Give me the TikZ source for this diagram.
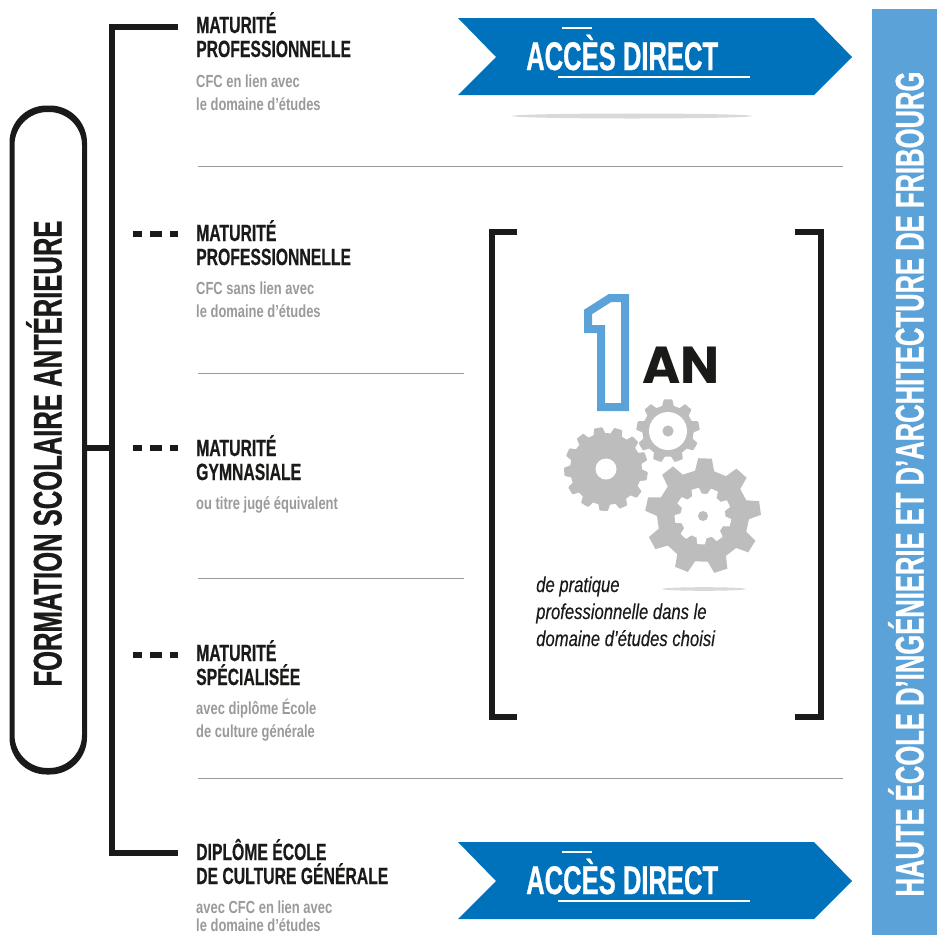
\documentclass[tikz,border=0pt]{standalone}
\usepackage{fontspec}
\setmainfont{Liberation Sans}
\newfontfamily\cond[FakeStretch=0.67,FakeBold=0.5]{Liberation Sans}
\newfontfamily\condb[FakeStretch=0.64,FakeBold=0.6]{Liberation Sans}
\newfontfamily\condi[FakeStretch=0.775,FakeBold=0.3]{Liberation Sans}
\newfontfamily\condn[FakeStretch=0.74]{Liberation Sans}
\newfontfamily\heavy{Poppins}
\definecolor{sky}{HTML}{5BA2D8}
\definecolor{royal}{HTML}{0072BC}
\definecolor{ink}{HTML}{1A1A18}
\definecolor{soft}{HTML}{9A9A9A}
\definecolor{gearc}{HTML}{BDBDBD}
\tikzset{
  head/.style={font=\cond\bfseries\fontsize{23.5}{24}\selectfont,text=ink,anchor=base west,inner sep=0pt},
  sub/.style={font=\condn\bfseries\fontsize{17.5}{20}\selectfont,text=soft,anchor=base west,inner sep=0pt},
  ital/.style={font=\condi\itshape\fontsize{21.5}{22}\selectfont,text=ink,anchor=base west,inner sep=0pt},
  bar/.style={line width=5.5pt,draw=ink},
  dashline/.style={line width=6pt,draw=ink,dash pattern=on 9pt off 8pt on 12pt off 8pt on 8pt off 20pt},
  sep/.style={line width=1pt,draw=soft},
  bracket/.style={line width=6pt,draw=ink,line join=miter},
  arrowband/.style={fill=royal},
  accesstext/.style={font=\condb\bfseries\fontsize{40}{40}\selectfont,text=white,anchor=base west,inner sep=0pt},
  whiteline/.style={line width=1.6pt,draw=white}
}
\newcommand{\gearshape}[7]{% style cx cy ro ri n rot
  \pgfmathsetmacro{\gp}{360/#6}
  \pgfmathtruncatemacro{\gl}{#6-1}
  \fill[#1] ([shift={(#2,#3)}]{#7-0.30*\gp}:#5)
  \foreach \i [evaluate=\i as \ga using \i*\gp+#7] in {0,...,\gl} {
    -- ([shift={(#2,#3)}]{\ga-0.30*\gp}:#5)
    -- ([shift={(#2,#3)}]{\ga-0.17*\gp}:#4)
    -- ([shift={(#2,#3)}]{\ga+0.17*\gp}:#4)
    -- ([shift={(#2,#3)}]{\ga+0.30*\gp}:#5)
  } -- cycle;
}
\newcommand{\accessarrow}[2]{% name, cy
  \fill[arrowband] (458,#2-39) -- (814,#2-39) -- (852,#2) -- (814,#2+38) -- (458,#2+38) -- (496,#2) -- cycle;
  \node[accesstext] (#1) at (526,#2+13) {ACCÈS DIRECT};
  \draw[whiteline] (562,#2-29) -- (592,#2-29);
  \draw[whiteline] (558,#2+20) -- (750,#2+20);
}
\begin{document}
\begin{tikzpicture}[x=1pt,y=-1pt]
\useasboundingbox (0,0) rectangle (937,935);
% right band
\fill[sky] (872,9) rectangle (937,935);
\node[font=\condb\bfseries\fontsize{40}{40}\selectfont,text=white,rotate=90,inner sep=0pt] (hes) at (906,484) {HAUTE ÉCOLE D’INGÉNIERIE ET D’ARCHITECTURE DE FRIBOURG};
% left box: the stroke is thicker on the rounded ends than on the sides
\fill[ink,even odd rule] [rounded corners=37pt] (9.5,105.5) rectangle (87,774.5) [rounded corners=33pt] (14.5,112) rectangle (82,768);
\node[font=\condb\bfseries\fontsize{40}{40}\selectfont,text=ink,rotate=90,inner sep=0pt] (boxt) at (44,453.5) {FORMATION SCOLAIRE ANTÉRIEURE};
% tree
\coordinate (boxe) at (85,448);
\coordinate (j) at (112,448);
\coordinate (t) at (178,27);
\coordinate (b) at (178,853);
\draw[bar] (t) -- (112,27) -- (112,853) -- (b);
\draw[bar] (boxe) -- (j);
\coordinate (d1a) at (133,234); \coordinate (d1b) at (178,234);
\coordinate (d2a) at (133,448); \coordinate (d2b) at (178,448);
\coordinate (d3a) at (133,655); \coordinate (d3b) at (178,655);
\draw[dashline] (d1a) -- (d1b);
\draw[dashline] (d2a) -- (d2b);
\draw[dashline] (d3a) -- (d3b);
% separators
\coordinate (s1a) at (198,166); \coordinate (s1b) at (843,166);
\coordinate (s2a) at (198,373); \coordinate (s2b) at (464,373);
\coordinate (s3a) at (198,578); \coordinate (s3b) at (464,578);
\coordinate (s4a) at (198,778); \coordinate (s4b) at (843,778);
\draw[sep] (s1a) -- (s1b); \draw[sep] (s2a) -- (s2b);
\draw[sep] (s3a) -- (s3b); \draw[sep] (s4a) -- (s4b);
% labels
\node[head] (a1) at (196,33) {MATURITÉ};
\node[head] (a2) at (196,57) {PROFESSIONNELLE};
\node[sub] (a3) at (196,87) {CFC en lien avec};
\node[sub] (a4) at (196,110) {le domaine d’études};
\node[head] (b1) at (196,241) {MATURITÉ};
\node[head] (b2) at (196,265) {PROFESSIONNELLE};
\node[sub] (b3) at (196,294) {CFC sans lien avec};
\node[sub] (b4) at (196,317) {le domaine d’études};
\node[head] (c1) at (196,456) {MATURITÉ};
\node[head] (c2) at (196,480) {GYMNASIALE};
\node[sub] (c3) at (196,509) {ou titre jugé équivalent};
\node[head] (e1) at (196,661) {MATURITÉ};
\node[head] (e2) at (196,685) {SPÉCIALISÉE};
\node[sub] (e3) at (196,714) {avec diplôme École};
\node[sub] (e4) at (196,737) {de culture générale};
\node[head] (f1) at (196,860) {DIPLÔME ÉCOLE};
\node[head] (f2) at (196,884) {DE CULTURE GÉNÉRALE};
\node[sub] (f3) at (196,913) {avec CFC en lien avec};
\node[sub] (f4) at (196,931) {le domaine d’études};
% arrows
\accessarrow{acc1}{57}
\accessarrow{acc2}{881}
\fill[black!15] (632,116) ellipse (120pt and 2.5pt);
% brackets
\draw[bracket] (517,232) -- (492,232) -- (492,717) -- (517,717);
\draw[bracket] (795,232) -- (820.5,232) -- (820.5,717) -- (795,717);
% one
\draw[sky,line width=8pt,miter limit=10] (625,298) -- (610,298) -- (588,312) -- (588,329) -- (601,329) -- (601,407) -- (625,407) -- cycle;
\node[font=\heavy\bfseries\fontsize{52}{52}\selectfont,text=ink,anchor=base west,inner sep=0pt] (an) at (642,383) {AN};
% gears
\gearshape{gearc,draw=gearc,line width=2pt,line join=round}{606}{469}{41}{35}{13}{10}
\fill[white] (606,469) circle (10.5pt);
\gearshape{gearc,draw=gearc,line width=1.5pt,line join=round}{668}{431}{31}{25}{9}{-10}
\fill[white] (668,431) circle (19pt);
\fill[gearc] (668,431) circle (5.6pt);
\gearshape{gearc}{703}{516}{58}{46}{9}{-8}
\gearshape{white,draw=white,line width=1pt,line join=round}{703}{516}{28}{22}{9}{14}
\fill[gearc] (703,516) circle (5pt);
\fill[black!15] (704,589) ellipse (42pt and 1.8pt);
% italic
\node[ital] (p1) at (536,592) {de pratique};
\node[ital] (p2) at (536,619) {professionnelle dans le};
\node[ital] (p3) at (536,646) {domaine d’études choisi};
\end{tikzpicture}
\end{document}
